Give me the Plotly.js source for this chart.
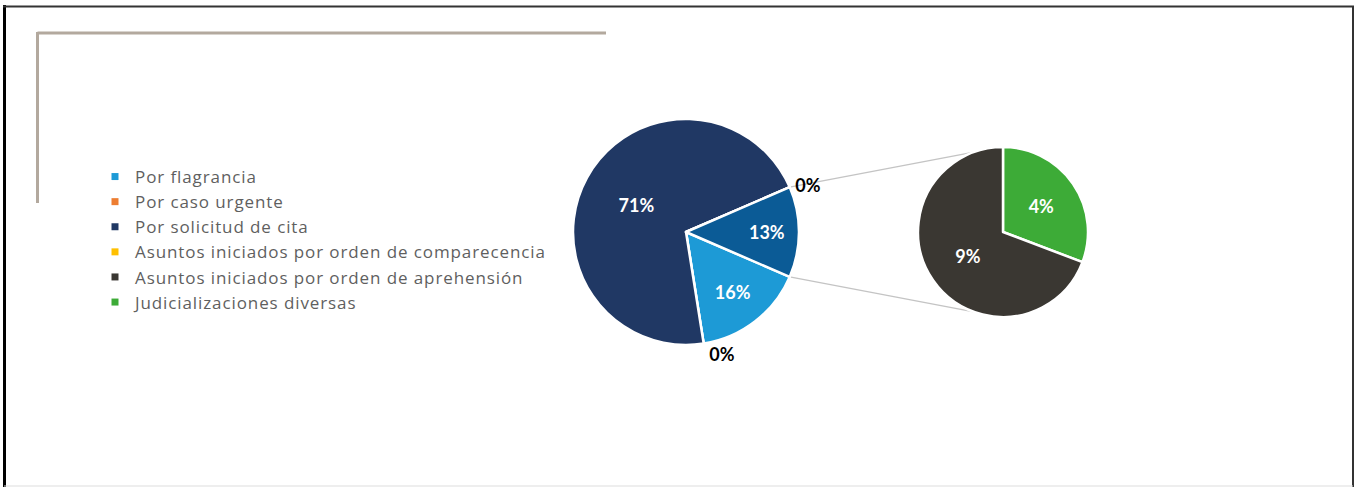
<!DOCTYPE html>
<html>
<head>
<meta charset="utf-8">
<script src="https://cdn.plot.ly/plotly-3.0.1.min.js"></script>
<style>html,body{margin:0;padding:0;background:#fff;}#chart{width:1356px;height:487px;}
.legendtext{letter-spacing:0.9px;}</style>
</head>
<body>
<div id="chart"></div>
<script>
// ---- data ----
const categories = ["Por flagrancia", "Por caso urgente", "Por solicitud de cita",
  "Asuntos iniciados por orden de comparecencia", "Asuntos iniciados por orden de aprehensión",
  "Judicializaciones diversas"];
const categoryColors = ["#1d9ad6", "#ed7d31", "#203864", "#ffc000", "#3a3732", "#3dab37"];
// main pie (percent of total)
const mainLabels = ["Por flagrancia", "Por caso urgente", "Por solicitud de cita",
  "Asuntos iniciados por orden de comparecencia", "Otro"];
const mainValues = [16, 0, 71, 0, 13];
const mainColors = ["#1d9ad6", "#ed7d31", "#203864", "#ffc000", "#0b5b96"];
// secondary pie (breakdown of "Otro")
const subLabels = ["Judicializaciones diversas", "Asuntos iniciados por orden de aprehensión"];
const subValues = [4, 9];
const subColors = ["#3dab37", "#3a3732"];

// ---- layout geometry ----
const W = 1356, H = 487;
const P1 = {cx: 686, cy: 232, r: 113};
const P2 = {cx: 1003, cy: 232, r: 85};
function dom(p) {
  return {x: [(p.cx - p.r) / W, (p.cx + p.r) / W], y: [1 - (p.cy + p.r) / H, 1 - (p.cy - p.r) / H]};
}
const total = mainValues.reduce((a, b) => a + b, 0);
const otherFrac = mainValues[mainValues.length - 1] / total;
const rotation = 90 + otherFrac * 180;

const labelFont = {family: "Lato", size: 18, color: "#ffffff", weight: "bold"};
const outFont = {family: "Lato", size: 18, color: "#000000", weight: "bold"};

const traces = [
  {
    type: "pie", labels: mainLabels, values: mainValues, sort: false, direction: "clockwise",
    rotation: rotation, domain: dom(P1), showlegend: false,
    marker: {colors: mainColors, line: {color: "#ffffff", width: 2.5}},
    texttemplate: "%{value}%", hoverinfo: "label+value",
    textposition: mainValues.map(v => v === 0 ? "outside" : "inside"),
    insidetextfont: labelFont, outsidetextfont: outFont, insidetextorientation: "horizontal",
    automargin: false
  },
  {
    type: "pie", labels: subLabels, values: subValues, sort: false, direction: "clockwise",
    rotation: 0, domain: dom(P2), showlegend: false,
    marker: {colors: subColors, line: {color: "#ffffff", width: 2.5}},
    texttemplate: "%{value}%", textposition: "inside",
    insidetextfont: labelFont, insidetextorientation: "horizontal", automargin: false
  }
];
categories.forEach((c, i) => {
  traces.push({type: "scatter", mode: "markers", x: [null], y: [null], name: c,
    marker: {symbol: "square", size: 7, color: categoryColors[i]}, hoverinfo: "skip"});
});

// connector lines from "Otro" slice edges to secondary pie
const half = otherFrac * Math.PI;
function pt(p, a) { return [(p.cx + p.r * Math.sin(a)) / W, 1 - (p.cy - p.r * Math.cos(a)) / H]; }
const a1u = Math.PI / 2 - half, a1d = Math.PI / 2 + half;
const a2u = -20 * Math.PI / 180, a2d = Math.PI + 20 * Math.PI / 180;
const u1 = pt(P1, a1u), d1 = pt(P1, a1d), u2 = pt(P2, a2u), d2 = pt(P2, a2d);

const tan = "#b3a99e";
const shapes = [
  {type: "line", xref: "paper", yref: "paper", x0: u1[0], y0: u1[1], x1: u2[0], y1: u2[1], line: {color: "#c4c4c4", width: 1.5}, layer: "below"},
  {type: "line", xref: "paper", yref: "paper", x0: d1[0], y0: d1[1], x1: d2[0], y1: d2[1], line: {color: "#c4c4c4", width: 1.5}, layer: "below"},
  // decorative bracket
  {type: "line", xref: "paper", yref: "paper", x0: 37.5 / W, x1: 606 / W, y0: 1 - 33 / H, y1: 1 - 33 / H, line: {color: tan, width: 3}},
  {type: "line", xref: "paper", yref: "paper", x0: 37.5 / W, x1: 37.5 / W, y0: 1 - 32 / H, y1: 1 - 203 / H, line: {color: tan, width: 3}},
  // frame
  {type: "line", xref: "paper", yref: "paper", x0: 4.5 / W, x1: 4.5 / W, y0: 1 - 5 / H, y1: 1 - 487 / H, line: {color: "#000", width: 3}},
  {type: "line", xref: "paper", yref: "paper", x0: 3 / W, x1: 1354 / W, y0: 1 - 6.5 / H, y1: 1 - 6.5 / H, line: {color: "#333", width: 2}},
  {type: "line", xref: "paper", yref: "paper", x0: 1353 / W, x1: 1353 / W, y0: 1 - 6 / H, y1: 1 - 487 / H, line: {color: "#333", width: 2}},
  {type: "line", xref: "paper", yref: "paper", x0: 4 / W, x1: 1353 / W, y0: 1 - 486 / H, y1: 1 - 486 / H, line: {color: "#ddd", width: 1}}
];

const layout = {
  width: W, height: H, margin: {l: 0, r: 0, t: 0, b: 0},
  paper_bgcolor: "#ffffff", plot_bgcolor: "#ffffff",
  xaxis: {visible: false, range: [0, 1]}, yaxis: {visible: false, range: [0, 1]},
  showlegend: true,
  legend: {x: 95 / W, xanchor: "left", y: 1 - 159 / H, yanchor: "top",
    font: {family: "Open Sans", size: 17, color: "#5f5f5f"}, bgcolor: "rgba(0,0,0,0)", itemwidth: 30},
  shapes: shapes
};
Plotly.newPlot("chart", traces, layout, {displayModeBar: false, staticPlot: true});
</script>
</body>
</html>
